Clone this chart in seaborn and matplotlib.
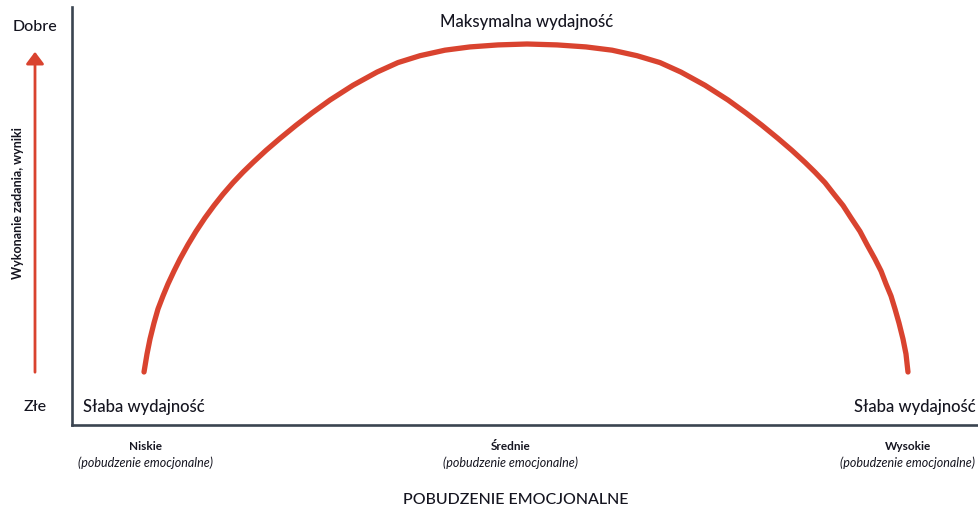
import pandas as pd
import seaborn as sns
import matplotlib.pyplot as plt

pobudzenie = [7.94, 8.27, 8.60, 9.04, 9.48, 10.03, 10.58, 11.25, 11.91, 12.79, 13.67, 14.66,
              15.66, 16.65, 17.75, 18.85, 19.96, 21.39, 22.93, 24.70, 26.46, 28.45, 30.98,
              33.63, 35.94, 38.37, 41.12, 43.88, 46.97, 50.17,
              53.47, 56.67, 59.54, 62.29, 64.83, 67.14, 69.79, 72.33, 74.31, 76.07, 77.84,
              79.38, 80.82, 81.92, 83.02, 84.01, 85.01, 85.89, 86.88, 87.65, 88.53, 89.20,
              89.75, 90.30, 90.74, 91.18, 91.62, 91.95, 92.17]
wynik = [12.68, 16.99, 20.57, 24.40, 27.75, 30.86, 33.73, 36.84, 39.71, 43.16, 46.32, 49.55,
         52.51, 55.22, 57.97, 60.48, 62.82, 65.69, 68.56, 71.70, 74.64, 77.75, 81.27,
         84.43, 86.70, 88.35, 89.67, 90.45, 90.93, 91.15,
         90.93, 90.45, 89.67, 88.35, 86.70, 84.43, 81.27, 77.75, 74.64, 71.70, 68.56,
         65.69, 62.82, 60.48, 57.97, 55.22, 52.51, 49.55, 46.32, 43.16, 39.71, 36.84,
         33.73, 30.86, 27.75, 24.40, 20.57, 16.99, 12.68]

poziomy = ["Niskie", "Średnie", "Wysokie"]
poziomy_x = [145, 511, 908]

dane = pd.DataFrame({"Pobudzenie": pobudzenie, "Wynik": wynik})

sns.set_style("white")
plt.rcParams['font.family'] = ['Lato', 'DejaVu Sans']

W, H = 979, 510
fig = plt.figure(figsize=(W / 100, H / 100), dpi=100)
ax = fig.add_axes([72 / W, 84 / H, 907 / W, 418 / H])

czerwony = "#d9432f"
ciemny = "#3a4450"
tekst = "#151520"

sns.lineplot(x="Pobudzenie", y="Wynik", data=dane, ax=ax, color=czerwony,
             linewidth=3.8, solid_capstyle="round", solid_joinstyle="round", sort=False)

ax.set_xlim(0, 100)
ax.set_ylim(0, 100)
ax.set_xticks([])
ax.set_yticks([])
ax.set_xlabel("")
ax.set_ylabel("")
for s in ["top", "right"]:
    ax.spines[s].set_visible(False)
for s in ["left", "bottom"]:
    ax.spines[s].set_color(ciemny)
    ax.spines[s].set_linewidth(1.9)


def fx(px):
    return px / W


def fy(py):
    return 1 - py / H


fig.text(fx(35), fy(27), "Dobre", ha="center", va="center", fontsize=11.5,
         fontweight="medium", color=tekst)
fig.text(fx(35), fy(407), "Złe", ha="center", va="center", fontsize=11.5,
         fontweight="medium", color=tekst)
fig.text(fx(18), fy(203), "Wykonanie zadania, wyniki", ha="center", va="center",
         rotation=90, fontsize=9, fontweight="bold", color=tekst)

ax.annotate("", xy=(35, H - 50), xytext=(35, H - 376), xycoords="figure pixels",
            textcoords="figure pixels", annotation_clip=False,
            arrowprops=dict(arrowstyle="-|>,head_length=0.6,head_width=0.45",
                            color=czerwony, lw=2.0, mutation_scale=12))

fig.text(fx(527), fy(22), "Maksymalna wydajność", ha="center", va="center",
         fontsize=12, fontweight="medium", color=tekst)
fig.text(fx(83), fy(407), "Słaba wydajność", ha="left", va="center",
         fontsize=12, fontweight="medium", color=tekst)
fig.text(fx(976), fy(407), "Słaba wydajność", ha="right", va="center",
         fontsize=12, fontweight="medium", color=tekst)

for nazwa, px in zip(poziomy, poziomy_x):
    fig.text(fx(px), fy(447), nazwa, ha="center", va="center", fontsize=8.5,
             fontweight="bold", color=tekst)
    fig.text(fx(px), fy(463), "(pobudzenie emocjonalne)", ha="center", va="center",
             fontsize=9, style="italic", color=tekst)

fig.text(fx(516), fy(500), "POBUDZENIE EMOCJONALNE", ha="center", va="center",
         fontsize=11.5, fontweight="medium", color=tekst)

fig.savefig("out.png", dpi=100)
